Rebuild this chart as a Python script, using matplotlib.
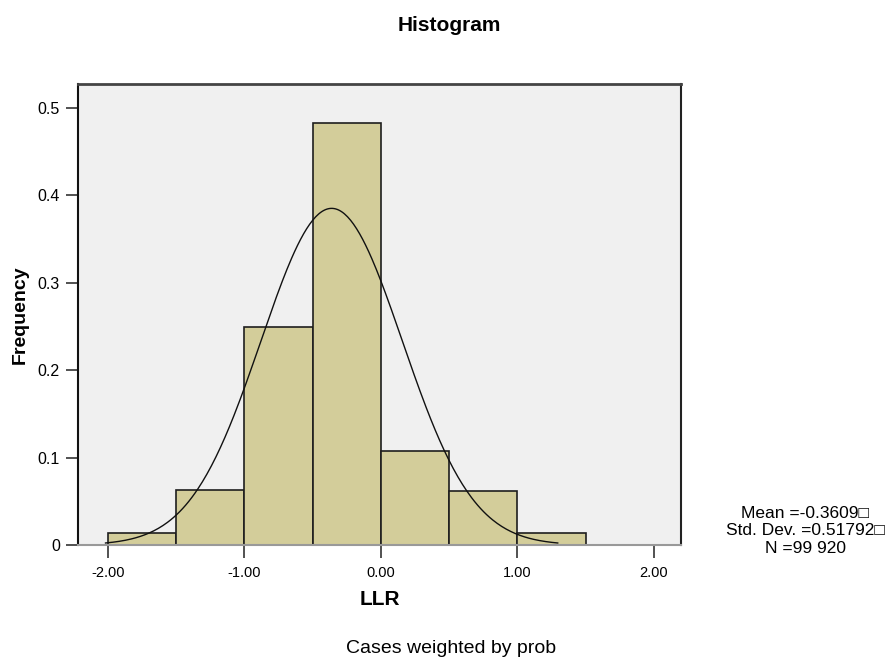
import numpy as np
import matplotlib.pyplot as plt

plt.rcParams['font.family'] = ['Liberation Sans', 'DejaVu Sans']

# histogram data (bins of width 0.5)
bin_left = [-2.0, -1.5, -1.0, -0.5, 0.0, 0.5, 1.0]
freq = [0.0141, 0.0624, 0.2495, 0.4826, 0.1078, 0.0620, 0.0141]
bin_width = 0.5

mean = -0.3609
std = 0.51792
n = 0.9992

x_ticks = [-2.0, -1.0, 0.0, 1.0, 2.0]
x_ticklabels = ['-2.00', '-1.00', '0.00', '1.00', '2.00']
y_ticks = [0, 0.1, 0.2, 0.3, 0.4, 0.5]
y_ticklabels = ['0', '0.1', '0.2', '0.3', '0.4', '0.5']

fig = plt.figure(figsize=(8.9, 6.62), dpi=100)
ax = fig.add_axes([78/890, 1 - 545/662, 603/890, 461/662])
ax.set_facecolor('#f0f0f0')

ax.bar(bin_left, freq, width=bin_width, align='edge',
       color='#d3cd9a', edgecolor='#1e1e1e', linewidth=1.2, zorder=2)

# normal curve
xs = np.linspace(mean - 3.2*std, mean + 3.2*std, 300)
ys = n*bin_width/(std*np.sqrt(2*np.pi))*np.exp(-0.5*((xs - mean)/std)**2)
ax.plot(xs, ys, color='#111111', lw=1.0, zorder=3)

ax.set_xlim(-2.22, 2.20)
ax.set_ylim(0, 0.527)
ax.set_xticks(x_ticks)
ax.set_xticklabels(x_ticklabels, fontsize=10.5)
ax.set_yticks(y_ticks)
ax.set_yticklabels(y_ticklabels, fontsize=11.5)
ax.tick_params(axis='both', direction='out', length=9, width=1.2, color='#333333')
ax.tick_params(axis='x', pad=6)
ax.tick_params(axis='y', pad=4)

ax.spines['left'].set_color('#111111')
ax.spines['left'].set_linewidth(1.5)
ax.spines['right'].set_color('#222222')
ax.spines['right'].set_linewidth(1.5)
ax.spines['top'].set_color('#444444')
ax.spines['top'].set_linewidth(2)
ax.spines['bottom'].set_color('#999999')
ax.spines['bottom'].set_linewidth(1.5)

ax.set_xlabel('LLR', fontsize=15, fontweight='bold', labelpad=7)
ax.set_ylabel('Frequency', fontsize=14, fontweight='bold', labelpad=6)

fig.text(0.505, 0.962, 'Histogram', ha='center', va='center', fontsize=15, fontweight='bold')
fig.text(0.507, 0.021, 'Cases weighted by prob', ha='center', va='center', fontsize=14)
fig.text(0.905, 0.198, 'Mean =-0.3609□\nStd. Dev. =0.51792□\nN =99 920',
         ha='center', va='center', fontsize=12.5, linespacing=1.2)

fig.savefig('out.png', dpi=100)
